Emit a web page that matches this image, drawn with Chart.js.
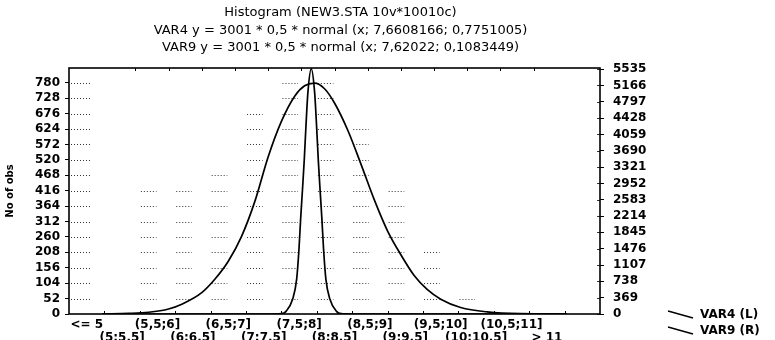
<!DOCTYPE html>
<html>
<head>
<meta charset="utf-8">
<script src="https://cdn.jsdelivr.net/npm/chart.js@4.4.1/dist/chart.umd.min.js"></script>
<style>
  html, body { margin: 0; padding: 0; background: #fff; }
</style>
</head>
<body>
<canvas id="hist" width="775" height="340"></canvas>
<script>
// texts
const titleLines = [
  'Histogram (NEW3.STA 10v*10010c)',
  'VAR4 y = 3001 * 0,5 * normal (x; 7,6608166; 0,7751005)',
  'VAR9 y = 3001 * 0,5 * normal (x; 7,62022; 0,1083449)'
]
const yTitle = 'No of obs'
const legendItems = ['VAR4 (L)', 'VAR9 (R)']

// categories (bottom axis)
const categories = ['<= 5', '(5;5,5]', '(5,5;6]', '(6;6,5]', '(6,5;7]', '(7;7,5]', '(7,5;8]',
  '(8;8,5]', '(8,5;9]', '(9;9,5]', '(9,5;10]', '(10;10,5]', '(10,5;11]', '> 11']

// histogram bars (left axis), read from the dotted fills
const var4Counts = [0, 0, 430, 430, 480, 700, 800, 790, 640, 430, 220, 60, 0, 0]

// fitted curves
const var4X = [4.5, 4.9, 5.2, 5.5, 5.7, 6.0, 6.2, 6.4, 6.6, 6.8, 7.0, 7.2, 7.4, 7.55, 7.7,
  7.85, 8.0, 8.2, 8.4, 8.6, 8.8, 9.0, 9.2, 9.4, 9.6, 9.9, 10.3, 10.8, 11.5]
const var4Y = [0, 2, 6, 17, 33, 72, 118, 178, 262, 380, 530, 650, 735, 770, 779,
  760, 712, 620, 505, 385, 280, 200, 130, 82, 50, 22, 7, 1, 0]

const var9X = [4.5, 7.0, 7.2, 7.27, 7.37, 7.43, 7.465, 7.49, 7.52, 7.545, 7.57, 7.6, 7.65,
  7.7, 7.73, 7.755, 7.78, 7.81, 7.835, 7.87, 7.93, 8.03, 8.1, 8.3, 11.5]
const var9Y = [0, 0, 8, 60, 340, 790, 1470, 2150, 2870, 3500, 4250, 5020, 5540,
  5020, 4250, 3500, 2870, 2150, 1470, 790, 340, 60, 8, 0, 0]

// axes
const leftMax = 830
const leftStep = 52
const rightMax = 5560
const rightStep = 369
const xMin = 4.5
const xMax = 11.5

const fontName = 'DejaVu Sans'

const decor = {
  id: 'decor',
  beforeDatasetsDraw(chart) {
    const ctx = chart.ctx
    const area = chart.chartArea
    const yL = chart.scales.yL
    const yR = chart.scales.yR
    ctx.save()
    ctx.strokeStyle = '#333'
    ctx.lineWidth = 1
    ctx.setLineDash([1, 2])

    // dotted fills inside the bars, at the left axis levels
    const meta = chart.getDatasetMeta(0)
    meta.data.forEach((el, i) => {
      const p = el.getProps(['x', 'width'], true)
      yL.ticks.forEach(t => {
        if (t.value <= 0 || t.value > var4Counts[i]) return
        const py = Math.round(yL.getPixelForValue(t.value)) + 0.5
        ctx.beginPath()
        ctx.moveTo(p.x - p.width / 2, py)
        ctx.lineTo(p.x + p.width / 2, py)
        ctx.stroke()
      })
    })

    // dotted tick extensions on the left axis
    yL.ticks.forEach(t => {
      if (t.value <= 0) return
      const py = Math.round(yL.getPixelForValue(t.value)) + 0.5
      ctx.beginPath()
      ctx.moveTo(area.left + 2, py)
      ctx.lineTo(area.left + 21, py)
      ctx.stroke()
    })
    ctx.setLineDash([])

    // small inner marks on the right axis
    yR.ticks.forEach(t => {
      const py = Math.round(yR.getPixelForValue(t.value)) + 0.5
      ctx.beginPath()
      ctx.moveTo(area.right - 3, py)
      ctx.lineTo(area.right, py)
      ctx.stroke()
    })
    ctx.restore()
  },
  afterDraw(chart) {
    const ctx = chart.ctx
    const area = chart.chartArea
    const xv = chart.scales.xv
    const x = chart.scales.x
    ctx.save()
    ctx.strokeStyle = '#000'
    ctx.fillStyle = '#000'

    // frame
    ctx.lineWidth = 1.6
    ctx.strokeRect(area.left, area.top, area.right - area.left, area.bottom - area.top)

    // top ticks every 0.5 on the value axis
    ctx.lineWidth = 1
    for (let v = xMin + 0.5; v < xMax; v += 0.5) {
      const px = Math.round(xv.getPixelForValue(v)) + 0.5
      ctx.beginPath()
      ctx.moveTo(px, area.top)
      ctx.lineTo(px, area.top + 3)
      ctx.stroke()
    }
    // bottom ticks at category boundaries
    const n = x.getLabels().length
    for (let i = 0; i < n - 1; i++) {
      const px = Math.round((x.getPixelForValue(i) + x.getPixelForValue(i + 1)) / 2) + 0.5
      ctx.beginPath()
      ctx.moveTo(px, area.bottom)
      ctx.lineTo(px, area.bottom - 3)
      ctx.stroke()
    }

    // titles
    ctx.font = '13px "' + fontName + '"'
    ctx.textAlign = 'center'
    ctx.textBaseline = 'middle'
    const cx = (area.left + area.right) / 2 + 6
    titleLines.forEach((t, i) => ctx.fillText(t, cx, 13 + i * 17.5))

    // legend
    ctx.font = 'bold 12px "' + fontName + '"'
    ctx.textAlign = 'left'
    ctx.lineWidth = 1.3
    legendItems.forEach((t, i) => {
      const ly = 311 + i * 16
      ctx.beginPath()
      ctx.moveTo(668, ly)
      ctx.lineTo(693, ly + 7)
      ctx.stroke()
      ctx.fillText(t, 700, ly + 4)
    })
    ctx.restore()
  }
}

// ticks every step from 0 up to the axis max
const stepTicks = step => s => {
  const list = []
  for (let v = 0; v <= s.max; v += step) list.push({ value: v })
  s.ticks = list
}

const tickFont = { family: fontName, size: 12, weight: 'bold', lineHeight: 1.1 }

new Chart(document.getElementById('hist'), {
  type: 'bar',
  data: {
    labels: [...categories, ''],
    datasets: [
      {
        label: 'VAR4 bars',
        data: var4Counts,
        xAxisID: 'x',
        yAxisID: 'yL',
        backgroundColor: 'rgba(0,0,0,0)',
        borderWidth: 0,
        barPercentage: 0.88,
        categoryPercentage: 1
      },
      {
        type: 'line',
        label: 'VAR4 (L)',
        data: var4X.map((v, i) => ({ x: v, y: var4Y[i] })),
        xAxisID: 'xv',
        yAxisID: 'yL',
        borderColor: '#000',
        borderWidth: 1.7,
        pointRadius: 0,
        cubicInterpolationMode: 'monotone',
        fill: false
      },
      {
        type: 'line',
        label: 'VAR9 (R)',
        data: var9X.map((v, i) => ({ x: v, y: var9Y[i] })),
        xAxisID: 'xv',
        yAxisID: 'yR',
        borderColor: '#000',
        borderWidth: 1.7,
        pointRadius: 0,
        cubicInterpolationMode: 'monotone',
        fill: false
      }
    ]
  },
  options: {
    responsive: false,
    animation: false,
    devicePixelRatio: 1,
    layout: { padding: { top: 68, right: 105, left: 0, bottom: 0 } },
    plugins: {
      legend: { display: false },
      title: { display: false },
      tooltip: { enabled: false }
    },
    scales: {
      x: {
        type: 'category',
        position: 'bottom',
        offset: true,
        grid: { display: false, drawTicks: false },
        border: { display: false },
        ticks: {
          autoSkip: false,
          maxRotation: 0,
          minRotation: 0,
          padding: 4,
          color: '#000',
          font: tickFont,
          callback: function(value, index) {
            const lab = this.getLabelForValue(value)
            return index % 2 ? ['', lab] : lab
          }
        },
        afterFit: s => { s.height = 26 }
      },
      xv: {
        type: 'linear',
        display: false,
        min: xMin,
        max: xMax
      },
      yL: {
        type: 'linear',
        position: 'left',
        min: 0,
        max: leftMax,
        afterBuildTicks: stepTicks(leftStep),
        grid: { drawOnChartArea: false, tickLength: 4, color: '#000' },
        border: { display: false },
        ticks: {
          autoSkip: false,
          padding: 5,
          color: '#000',
          font: tickFont,
          callback: v => String(v)
        },
        title: {
          display: true,
          text: yTitle,
          color: '#000',
          font: { family: fontName, size: 10, weight: 'bold' },
          padding: { top: 4, bottom: 4 }
        },
        afterFit: s => { s.width = 69 }
      },
      yR: {
        type: 'linear',
        position: 'right',
        min: 0,
        max: rightMax,
        afterBuildTicks: stepTicks(rightStep),
        grid: { drawOnChartArea: false, tickLength: 4, color: '#000' },
        border: { display: false },
        ticks: {
          autoSkip: false,
          padding: 9,
          color: '#000',
          font: tickFont,
          callback: v => String(v)
        },
        afterFit: s => { s.width = 70 }
      }
    }
  },
  plugins: [decor]
})
</script>
</body>
</html>
